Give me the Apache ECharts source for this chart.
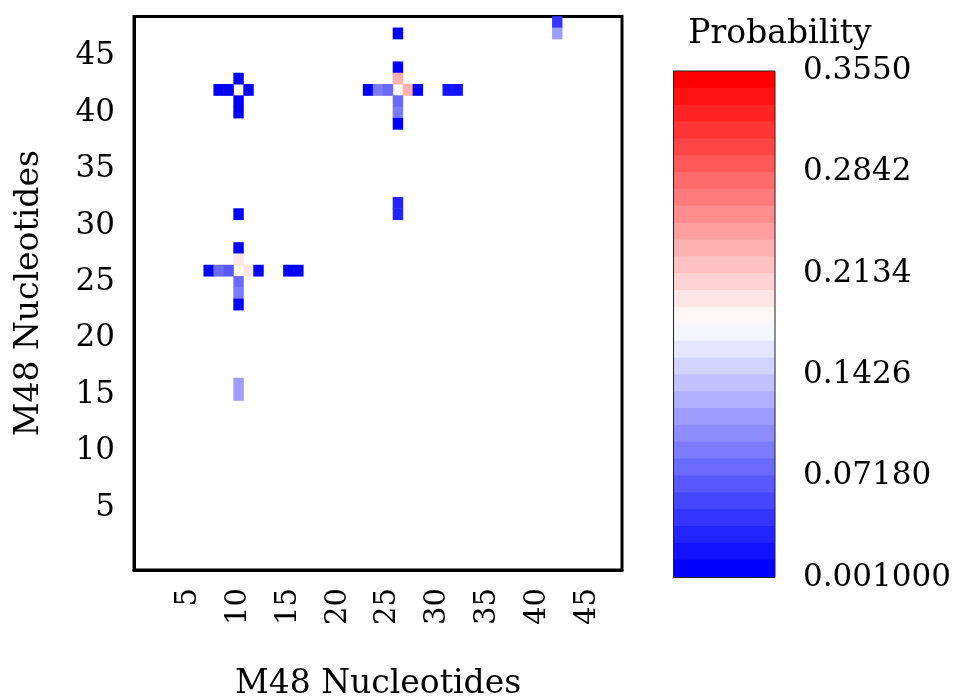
<!DOCTYPE html>
<html>
<head>
<meta charset="utf-8">
<script src="https://cdn.jsdelivr.net/npm/echarts@6/dist/echarts.min.js"></script>
<style>
  html, body { margin: 0; padding: 0; background: #fff; }
  #chart { width: 960px; height: 698px; }
</style>
</head>
<body>
<div id="chart"></div>
<script>
// Nucleotide positions on both axes (0..48)
const positions = Array.from({ length: 49 }, (_, i) => String(i));

// Base-pair probabilities: [x position, y position, probability]
const pairProbabilities = [
  // helix around (10, 42)
  [8, 42, 0.0052], [9, 42, 0.0061], [11, 42, 0.0048],
  [10, 43, 0.0057], [10, 41, 0.0063], [10, 40, 0.0044],
  // helix around (26, 42)
  [23, 42, 0.0055], [24, 42, 0.0902], [25, 42, 0.0781], [27, 42, 0.2315],
  [28, 42, 0.0050], [31, 42, 0.0172], [32, 42, 0.0180],
  [26, 47, 0.0058], [26, 44, 0.0060], [26, 43, 0.2298], [26, 41, 0.0776],
  [26, 40, 0.0911], [26, 39, 0.0047], [26, 32, 0.0301], [26, 31, 0.0312],
  // corner pair
  [42, 48, 0.0420], [42, 47, 0.1135],
  // helix around (10, 26)
  [10, 31, 0.0054], [10, 28, 0.0062], [10, 27, 0.1968],
  [7, 26, 0.0049], [8, 26, 0.0779], [9, 26, 0.0662], [11, 26, 0.1951],
  [12, 26, 0.0058], [15, 26, 0.0050], [16, 26, 0.0053],
  [10, 25, 0.0774], [10, 24, 0.0898], [10, 23, 0.0051],
  [10, 16, 0.1128], [10, 15, 0.1124]
];

// Colour scale limits and colorbar tick labels
const probMin = 0.001;
const probMax = 0.355;
const colorbarTicks = ['0.001000', '0.07180', '0.1426', '0.2134', '0.2842', '0.3550'];
const bandCount = 30;

// Blue-white-red colormap sampled into discrete bands
function bwr(t) {
  let r, g, b;
  if (t < 0.5) { r = g = 2 * t; b = 1; }
  else { r = 1; g = b = 2 * (1 - t); }
  const c = v => Math.round(v * 255);
  return 'rgb(' + c(r) + ',' + c(g) + ',' + c(b) + ')';
}
const bandStep = (probMax - probMin) / bandCount;
const pieces = [];
for (let i = 0; i < bandCount; i++) {
  pieces.push({
    min: probMin + i * bandStep,
    max: probMin + (i + 1) * bandStep,
    color: bwr(i / (bandCount - 1))
  });
}

const FONT = 'DejaVu Serif';
const showEveryFifth = (idx) => idx > 0 && idx % 5 === 0;

// Plot area and colorbar geometry
const plot = { left: 134, top: 16.5, width: 488, height: 553.5 };
const bar = { left: 673.5, top: 71, width: 101.5, height: 506.5 };
const bandOverlap = 1; // neighbouring bands overlap slightly so no seams show

const chart = echarts.init(document.getElementById('chart'), null, { renderer: 'canvas' });

chart.setOption({
  backgroundColor: '#fff',
  animation: false,
  grid: [
    { left: plot.left, top: plot.top, width: plot.width, height: plot.height,
      outerBoundsMode: 'none', containLabel: false,
      show: true, borderColor: '#000', borderWidth: 3, backgroundColor: 'transparent' },
    { left: bar.left, top: bar.top, width: bar.width, height: bar.height,
      outerBoundsMode: 'none', containLabel: false,
      show: true, borderColor: '#222', borderWidth: 1, backgroundColor: 'transparent', z: 10 }
  ],
  xAxis: [
    {
      gridIndex: 0, type: 'category', data: positions,
      name: 'M48 Nucleotides', nameLocation: 'middle', nameGap: 98,
      nameTextStyle: { fontFamily: FONT, fontSize: 33, color: '#000' },
      axisLine: { lineStyle: { color: '#000', width: 3 } },
      axisTick: { alignWithLabel: true, interval: showEveryFifth, length: 10,
                  lineStyle: { color: '#000', width: 2.5 } },
      axisLabel: { interval: showEveryFifth, rotate: 90, margin: 18,
                   fontFamily: FONT, fontSize: 29, color: '#000' },
      splitLine: { show: false }
    },
    { gridIndex: 1, type: 'value', show: false, min: 0, max: 1 }
  ],
  yAxis: [
    {
      gridIndex: 0, type: 'category', data: positions,
      name: 'M48 Nucleotides', nameLocation: 'middle', nameGap: 88, nameRotate: 90,
      nameTextStyle: { fontFamily: FONT, fontSize: 33, color: '#000' },
      axisLine: { lineStyle: { color: '#000', width: 3 } },
      axisTick: { alignWithLabel: true, interval: showEveryFifth, length: 10,
                  lineStyle: { color: '#000', width: 2.5 } },
      axisLabel: { interval: showEveryFifth, margin: 19, padding: [5, 0, 0, 0],
                   fontFamily: FONT, fontSize: 31, color: '#000' },
      splitLine: { show: false }
    },
    {
      gridIndex: 1, type: 'category', data: colorbarTicks, position: 'right',
      boundaryGap: false,
      axisLine: { show: false },
      axisTick: { show: true, length: 11, lineStyle: { color: '#999', width: 1.2 } },
      axisLabel: { margin: 28, padding: [5, 0, 0, 0],
                   fontFamily: FONT, fontSize: 31, color: '#000' },
      splitLine: { show: false }
    }
  ],
  visualMap: {
    type: 'piecewise',
    seriesIndex: 0,
    pieces: pieces,
    orient: 'vertical',
    left: bar.left, top: bar.top,
    itemWidth: bar.width,
    itemHeight: (bar.height + bandOverlap * (bandCount - 1)) / bandCount,
    itemGap: -bandOverlap, padding: 0,
    itemSymbol: 'rect',
    showLabel: false,
    selectedMode: false,
    hoverLink: false
  },
  graphic: [
    {
      type: 'text', x: 780, y: 34, z: 20,
      style: { text: 'Probability', fontFamily: FONT, fontSize: 33, fill: '#000',
               textAlign: 'center', textVerticalAlign: 'middle' }
    }
  ],
  series: [
    {
      type: 'heatmap',
      xAxisIndex: 0, yAxisIndex: 0,
      data: pairProbabilities,
      itemStyle: { borderWidth: 0 },
      emphasis: { disabled: true }
    }
  ]
});
</script>
</body>
</html>
